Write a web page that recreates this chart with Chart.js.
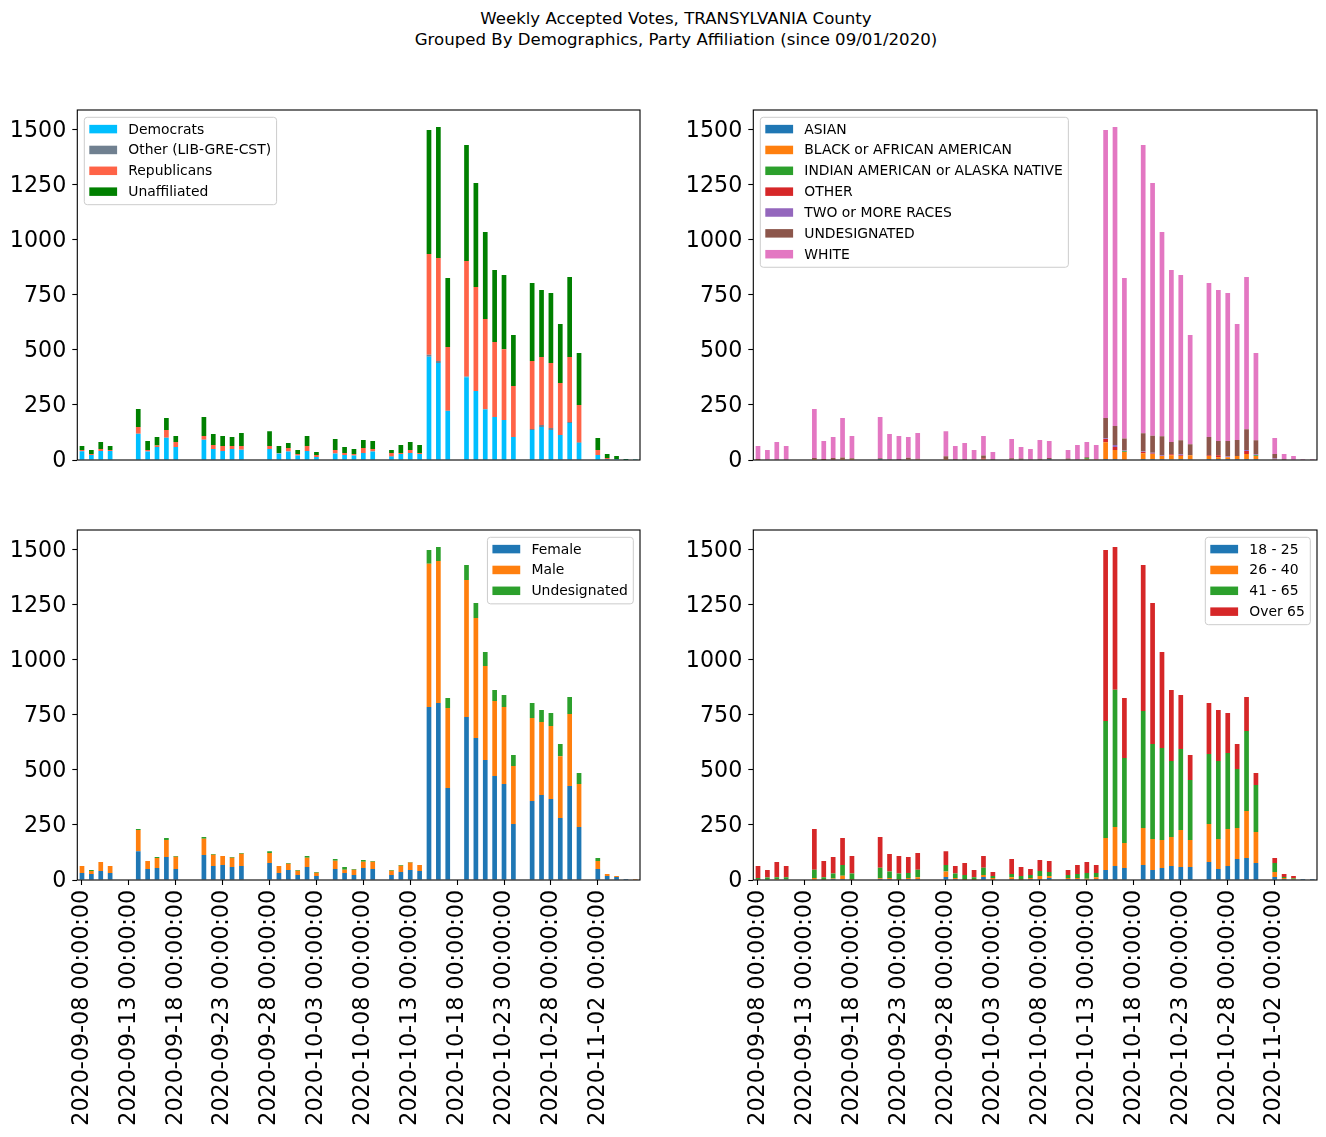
<!DOCTYPE html>
<html><head><meta charset="utf-8">
<script src="https://cdn.jsdelivr.net/npm/chart.js@4.4.0/dist/chart.umd.min.js"></script>
<style>
html,body{margin:0;padding:0;background:#fff;overflow:hidden;width:1326px;height:1137px;position:relative;}
#title{position:absolute;left:0;top:7.5px;width:1352px;text-align:center;font-family:"DejaVu Sans";font-size:16.6px;line-height:21px;color:#000;white-space:nowrap;}
canvas{position:absolute;}
</style></head><body>
<div id="title">Weekly Accepted Votes, TRANSYLVANIA County<br>Grouped By Demographics, Party Affiliation (since 09/01/2020)</div>
<canvas id="c1" width="650" height="370" style="left:0px;top:100px"></canvas>
<canvas id="c2" width="656" height="370" style="left:670px;top:100px"></canvas>
<canvas id="c3" width="650" height="617" style="left:0px;top:520px"></canvas>
<canvas id="c4" width="656" height="617" style="left:670px;top:520px"></canvas>
<script>
// ---------- DATA ----------
const dates = [
"2020-09-08 00:00:00","2020-09-09 00:00:00","2020-09-10 00:00:00","2020-09-11 00:00:00","2020-09-12 00:00:00",
"2020-09-13 00:00:00","2020-09-14 00:00:00","2020-09-15 00:00:00","2020-09-16 00:00:00","2020-09-17 00:00:00",
"2020-09-18 00:00:00","2020-09-19 00:00:00","2020-09-20 00:00:00","2020-09-21 00:00:00","2020-09-22 00:00:00",
"2020-09-23 00:00:00","2020-09-24 00:00:00","2020-09-25 00:00:00","2020-09-26 00:00:00","2020-09-27 00:00:00",
"2020-09-28 00:00:00","2020-09-29 00:00:00","2020-09-30 00:00:00","2020-10-01 00:00:00","2020-10-02 00:00:00",
"2020-10-03 00:00:00","2020-10-04 00:00:00","2020-10-05 00:00:00","2020-10-06 00:00:00","2020-10-07 00:00:00",
"2020-10-08 00:00:00","2020-10-09 00:00:00","2020-10-10 00:00:00","2020-10-11 00:00:00","2020-10-12 00:00:00",
"2020-10-13 00:00:00","2020-10-14 00:00:00","2020-10-15 00:00:00","2020-10-16 00:00:00","2020-10-17 00:00:00",
"2020-10-18 00:00:00","2020-10-19 00:00:00","2020-10-20 00:00:00","2020-10-21 00:00:00","2020-10-22 00:00:00",
"2020-10-23 00:00:00","2020-10-24 00:00:00","2020-10-25 00:00:00","2020-10-26 00:00:00","2020-10-27 00:00:00",
"2020-10-28 00:00:00","2020-10-29 00:00:00","2020-10-30 00:00:00","2020-10-31 00:00:00","2020-11-01 00:00:00",
"2020-11-02 00:00:00","2020-11-03 00:00:00","2020-11-04 00:00:00","2020-11-05 00:00:00","2020-11-06 00:00:00"];
const tickEvery = 5;
const yTicks = [0,250,500,750,1000,1250,1500];
const yMax = 1588;

// Party affiliation
const partyNames = ["Democrats","Other (LIB-GRE-CST)","Republicans","Unaffiliated"];
const partyColors = ["#00bfff","#708090","#ff6347","#008000"];
const democrats    = [40,23,41,41,0,0,119,38,59,101,59,0,0,92,50,41,50,47,0,0,50,29,38,20,41,14,0,29,23,20,32,38,0,15,27,32,27,469,440,222,0,376,313,229,195,181,104,0,136,150,136,113,168,77,0,23,4,4,1,3];
const otherParty   = [0,0,0,0,0,0,0,0,0,0,0,0,0,0,0,0,0,0,0,0,0,0,0,0,0,0,0,0,0,0,0,0,0,3,0,0,0,8,9,2,0,3,0,2,0,0,0,0,5,9,9,0,4,4,0,0,1,0,0,0];
const republicans  = [5,4,9,4,0,0,31,7,7,35,23,0,0,17,18,22,13,16,0,0,13,3,16,7,22,9,0,16,9,7,22,12,0,14,5,13,5,458,467,289,0,524,472,409,340,322,232,0,308,308,295,236,295,168,0,22,4,1,0,0];
const unaffiliated = [18,18,32,18,0,0,81,41,38,54,27,0,0,86,50,46,41,59,0,0,68,31,23,18,46,13,0,50,27,23,37,36,0,13,36,37,36,562,595,313,0,526,472,394,327,336,231,0,354,304,318,268,363,236,0,55,18,13,3,1];

// Race
const raceNames = ["ASIAN","BLACK or AFRICAN AMERICAN","INDIAN AMERICAN or ALASKA NATIVE","OTHER","TWO or MORE RACES","UNDESIGNATED","WHITE"];
const raceColors = ["#1f77b4","#ff7f0e","#2ca02c","#d62728","#9467bd","#8c564b","#e377c2"];
const asian      = [0,0,0,0,0,0,0,0,0,0,0,0,0,4,0,0,0,0,0,0,0,0,0,0,0,0,0,0,0,0,0,4,0,0,0,0,0,4,4,0,0,4,4,4,3,4,3,0,4,4,4,4,4,4,0,0,0,0,0,0];
const black      = [1,2,0,0,0,0,4,1,0,4,4,0,0,0,0,0,3,3,0,0,4,2,2,0,3,0,0,0,0,0,0,0,0,0,0,4,3,77,41,36,0,27,23,14,18,14,18,0,14,9,9,14,23,14,0,3,0,0,0,0];
const indianAm   = [0,0,0,0,0,0,0,0,0,0,0,0,0,0,0,0,0,0,0,0,0,0,0,0,0,0,0,0,0,0,0,0,0,0,0,4,0,0,0,4,0,0,0,0,0,0,0,0,0,0,0,0,0,4,0,0,0,0,0,0];
const otherRace  = [0,0,0,0,0,0,0,0,4,1,0,0,0,0,0,0,0,0,0,0,0,0,0,0,4,2,0,3,0,0,0,0,0,0,0,0,0,14,14,0,0,5,2,0,5,4,0,0,4,9,0,0,14,0,0,0,0,0,0,0];
const twoOrMore  = [0,0,0,0,0,0,0,0,0,0,0,0,0,0,0,0,0,0,0,0,0,0,0,0,0,0,0,0,0,0,0,0,0,0,0,0,0,4,9,3,0,3,4,4,0,4,0,0,0,0,4,0,4,4,0,4,0,0,0,0];
const undesRace  = [3,1,3,3,0,0,5,3,5,6,4,0,0,4,3,1,7,3,0,0,13,3,3,3,13,3,0,5,7,3,6,5,0,7,3,4,0,91,86,54,0,82,77,86,56,64,50,0,82,64,69,73,95,64,0,20,4,0,0,0];
const white      = [59,42,79,60,0,0,222,82,95,179,101,0,0,187,115,108,94,116,0,0,114,58,72,42,89,31,0,87,52,47,85,77,0,38,65,70,65,1307,1357,729,0,1308,1147,926,780,749,496,0,699,685,672,526,690,395,0,73,23,18,4,4];

// Gender
const genderNames = ["Female","Male","Undesignated"];
const genderColors = ["#1f77b4","#ff7f0e","#2ca02c"];
const female      = [32,27,41,32,0,0,131,50,54,104,50,0,0,113,63,68,59,63,0,0,77,32,45,23,59,18,0,50,32,23,54,50,0,23,36,45,41,785,803,417,0,739,644,544,472,435,254,0,358,386,367,281,426,240,0,50,18,14,4,0];
const male        = [31,14,41,31,0,0,96,36,46,78,55,0,0,74,51,41,42,56,0,0,46,31,29,19,42,15,0,37,14,24,29,33,0,19,29,34,27,650,644,363,0,622,545,427,340,350,263,0,377,331,332,281,327,195,0,36,9,4,0,4];
const undesGender = [0,4,0,0,0,0,4,0,4,8,4,0,0,8,4,0,3,3,0,0,8,0,3,3,8,3,0,8,13,3,8,3,0,3,3,3,0,62,64,46,0,68,68,63,50,54,50,0,68,54,59,55,77,50,0,14,0,0,0,0];

// Age
const ageNames = ["18 - 25","26 - 40","41 - 65","Over 65"];
const ageColors = ["#1f77b4","#ff7f0e","#2ca02c","#d62728"];
const age18_25 = [1,0,0,3,0,0,0,1,4,4,1,0,0,4,4,1,4,4,0,0,14,4,1,1,14,2,0,4,1,4,4,9,0,4,4,2,4,45,64,54,0,68,45,54,64,59,59,0,82,50,64,95,100,77,0,14,4,3,4,4];
const age26_40 = [2,2,4,1,0,0,9,2,3,15,3,0,0,4,5,3,5,9,0,0,24,5,3,3,9,7,0,9,3,5,14,9,0,5,5,4,9,145,177,114,0,168,141,127,131,168,122,0,172,136,167,141,213,141,0,22,5,3,0,0];
const age41_65 = [6,9,9,9,0,0,38,10,22,49,25,0,0,48,29,25,23,34,0,0,30,20,19,9,33,9,0,14,14,14,23,18,0,14,18,26,19,531,622,385,0,531,431,418,345,367,273,0,318,354,345,268,363,213,0,41,5,3,0,0];
const ageOver65 = [54,34,69,50,0,0,184,73,75,122,80,0,0,139,80,80,72,75,0,0,63,34,54,32,53,18,0,68,41,27,50,50,0,22,41,50,36,776,648,273,0,662,640,435,322,245,113,0,231,231,182,113,154,54,0,23,13,9,0,0];

// ---------- RENDERING ----------
const FONT = "DejaVu Sans";

const framePlugin = {
  id: 'frame',
  afterDatasetsDraw(chart) {
    const ctx = chart.ctx, a = chart.chartArea;
    ctx.save();
    ctx.strokeStyle = '#000';
    ctx.lineWidth = 1.1;
    ctx.strokeRect(a.left, a.top, a.right - a.left, a.bottom - a.top);
    ctx.restore();
  }
};

const legendPlugin = {
  id: 'mplLegend',
  afterDraw(chart, args, o) {
    const ctx = chart.ctx, a = chart.chartArea;
    const fs = 13.9;
    ctx.save();
    ctx.font = fs + 'px "' + FONT + '"';
    const ds = chart.data.datasets;
    const tw = Math.max(...ds.map(d => ctx.measureText(d.label).width));
    const w = 5 + 27.8 + 11.2 + tw + 5.5;
    const rowH = 20.85;
    const h = ds.length * rowH + 4;
    const x0 = o.align === 'right' ? a.right - 6.7 - w : a.left + 7;
    const y0 = a.top + 7.3;
    ctx.beginPath();
    if (ctx.roundRect) ctx.roundRect(x0, y0, w, h, 3); else ctx.rect(x0, y0, w, h);
    ctx.fillStyle = 'rgba(255,255,255,0.8)';
    ctx.fill();
    ctx.strokeStyle = '#cccccc';
    ctx.lineWidth = 1;
    ctx.stroke();
    ds.forEach((d, i) => {
      const cy = y0 + 11.8 + i * rowH;
      ctx.fillStyle = d.backgroundColor;
      ctx.fillRect(x0 + 5, cy - 4.25, 27.8, 8.5);
      ctx.fillStyle = '#000';
      ctx.textBaseline = 'middle';
      ctx.textAlign = 'left';
      ctx.fillText(d.label, x0 + 44, cy + 0.8);
    });
    ctx.restore();
  }
};

function makeChart(id, names, colors, series, cfg) {
  const datasets = names.map((n, i) => ({
    label: n,
    data: series[i],
    backgroundColor: colors[i],
    borderWidth: 0,
    categoryPercentage: 1,
    barPercentage: 0.5
  }));
  return new Chart(document.getElementById(id), {
    type: 'bar',
    data: { labels: dates, datasets },
    options: {
      responsive: false,
      animation: false,
      devicePixelRatio: 1,
      layout: { padding: { left: 0, top: 10, right: cfg.pr, bottom: 0 } },
      plugins: {
        legend: { display: false },
        tooltip: { enabled: false },
        title: { display: false },
        mplLegend: { align: cfg.legendAlign }
      },
      scales: {
        x: {
          stacked: true,
          offset: true,
          border: { display: false },
          grid: {
            display: cfg.showX,
            drawOnChartArea: false,
            offset: false,
            tickLength: 5,
            tickWidth: 1.1,
            tickColor: (c) => (c.index % tickEvery === 0 ? '#000' : 'rgba(0,0,0,0)')
          },
          ticks: {
            display: cfg.showX,
            autoSkip: false,
            maxRotation: 90,
            minRotation: 90,
            padding: 5,
            color: '#000',
            font: { family: FONT, size: 22.2 },
            callback: (v, i) => (i % tickEvery === 0 ? dates[i] : '')
          },
          afterFit: (s) => { s.height = cfg.xh; s.paddingLeft = 0; s.paddingRight = 0; }
        },
        y: {
          stacked: true,
          min: 0,
          max: yMax,
          border: { display: false },
          afterBuildTicks: (s) => { s.ticks = yTicks.map(v => ({ value: v })); },
          grid: { drawOnChartArea: false, tickLength: 5, tickWidth: 1.1, tickColor: '#000' },
          ticks: { padding: 6, labelOffset: 1.5, color: '#000', font: { family: FONT, size: 22.2 }, callback: (v) => String(v) },
          afterFit: (s) => { s.width = cfg.yw; s.paddingTop = 0; s.paddingBottom = 0; }
        }
      }
    },
    plugins: [framePlugin, legendPlugin]
  });
}

makeChart('c1', partyNames, partyColors, [democrats, otherParty, republicans, unaffiliated],
  { pr: 10, yw: 77.3, xh: 10, showX: false, legendAlign: 'left' });
makeChart('c2', raceNames, raceColors, [asian, black, indianAm, otherRace, twoOrMore, undesRace, white],
  { pr: 9, yw: 83.3, xh: 10, showX: false, legendAlign: 'left' });
makeChart('c3', genderNames, genderColors, [female, male, undesGender],
  { pr: 10, yw: 77.3, xh: 257, showX: true, legendAlign: 'right' });
makeChart('c4', ageNames, ageColors, [age18_25, age26_40, age41_65, ageOver65],
  { pr: 9, yw: 83.3, xh: 257, showX: true, legendAlign: 'right' });
</script>
</body></html>
